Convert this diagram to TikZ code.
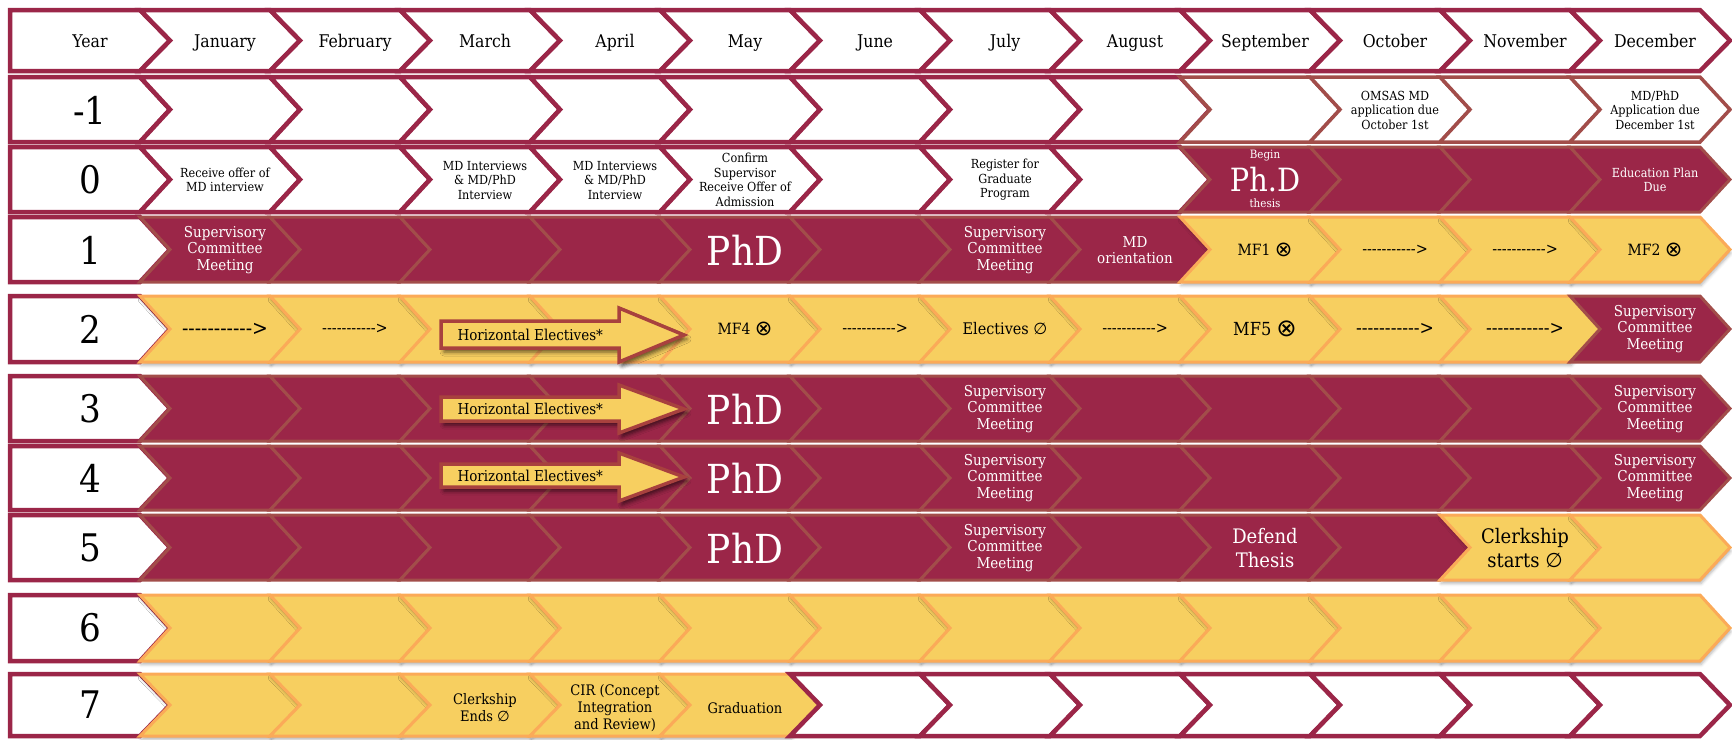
\documentclass[tikz,border=0pt]{standalone}
\usepackage{fontspec}
\setmainfont{DejaVu Serif Condensed}[Ligatures=TeXOff]
\newfontfamily\symfont{DejaVu Sans}
\usetikzlibrary{shadows.blur}

\definecolor{mdmaroon}{HTML}{9B2648}
\definecolor{phdbrown}{HTML}{A24D4A}
\definecolor{clkyellow}{HTML}{F7CF60}
\definecolor{clkorange}{HTML}{FBAA58}
\definecolor{elecred}{HTML}{A8413E}

\newcommand{\otimesym}{\raisebox{-0.08em}{\scalebox{1.35}{\symfont ⊗}}}
\newcommand{\emptysym}{{\symfont ∅}}
% one chevron: style, column, top, bottom
\newcommand{\chev}[4]{%
  \draw[#1] ({10+130*#2},#3) -- ({140+130*#2},#3) -- ({170+130*#2},{(#3+#4)/2})
    -- ({140+130*#2},#4) -- ({10+130*#2},#4) -- ({40+130*#2},{(#3+#4)/2}) -- cycle;}
% year column box, no notch
\newcommand{\yearbox}[2]{%
  \draw[cellw] (10,#1) -- (140,#1) -- (170,{(#1+#2)/2}) -- (140,#2) -- (10,#2) -- cycle;}

\begin{document}
\begin{tikzpicture}[x=1pt, y=-1pt,
  cellw/.style={draw=mdmaroon, line width=4.5pt, fill=white},
  cellb/.style={draw=phdbrown, line width=3.5pt, fill=white},
  cellm/.style={draw=phdbrown, line width=3pt, fill=mdmaroon},
  celly/.style={draw=clkorange, line width=3pt, fill=clkyellow,
    blur shadow={shadow xshift=1pt, shadow yshift=-3.5pt, shadow blur radius=3pt, shadow opacity=30}},
  elec/.style={draw=elecred, line width=3.5pt, fill=clkyellow, line join=miter,
    blur shadow={shadow xshift=3pt, shadow yshift=-4pt, shadow blur radius=4pt, shadow opacity=60}},
  hdr/.style={font=\fontsize{17.5}{20}\selectfont, anchor=base},
  yrnum/.style={font=\fontsize{38}{40}\selectfont},
  note/.style={font=\fontsize{12.5}{14.5}\selectfont, align=center},
  wnote/.style={note, text=white},
  meet/.style={font=\fontsize{15}{16.5}\selectfont, align=center, text=white},
  phd/.style={font=\fontsize{40}{40}\selectfont, text=white},
  mf/.style={font=\fontsize{15.5}{17}\selectfont},
  dashtxt/.style={font=\fontsize{16}{18}\selectfont},
  bigtxt/.style={font=\fontsize{20}{24}\selectfont, align=center},
  grad/.style={font=\fontsize{14.5}{17}\selectfont, align=center},
  electxt/.style={font=\fontsize{15}{17}\selectfont, anchor=west}]
\useasboundingbox (0,0) rectangle (1732,739);
%% header row
\yearbox{10}{71}
\foreach \c in {1,...,12} {\chev{cellw}{\c}{10}{71}}
%% year -1
\yearbox{77}{142}
\foreach \c in {1,...,8} {\chev{cellw}{\c}{77}{142}}
\foreach \c in {9,...,12} {\chev{cellb}{\c}{77}{142}}
%% year 0
\yearbox{147}{212}
\foreach \c in {1,...,8} {\chev{cellw}{\c}{147}{212}}
\foreach \c in {9,...,12} {\chev{cellm}{\c}{147}{212}}
%% year 1
\yearbox{217}{282}
\foreach \c in {1,...,8} {\chev{cellm}{\c}{217}{282}}
\foreach \c in {9,...,12} {\chev{celly}{\c}{217}{282}}
%% year 2
\yearbox{296}{362}
\foreach \c in {1,...,11} {\chev{celly}{\c}{296}{362}}
\chev{cellm}{12}{296}{362}
%% years 3 and 4
\foreach \t/\b in {376/441, 446/510} {
  \yearbox{\t}{\b}
  \foreach \c in {1,...,12} {\chev{cellm}{\c}{\t}{\b}}
}
%% year 5
\yearbox{515}{580}
\foreach \c in {1,...,10} {\chev{cellm}{\c}{515}{580}}
\foreach \c in {11,12} {\chev{celly}{\c}{515}{580}}
%% year 6
\yearbox{595}{661}
\foreach \c in {1,...,12} {\chev{celly}{\c}{595}{661}}
%% year 7
\yearbox{674}{736}
\foreach \c in {1,...,5} {\chev{celly}{\c}{674}{736}}
\foreach \c in {6,...,12} {\chev{cellw}{\c}{674}{736}}
%% horizontal electives arrows
\foreach \n/\t/\bt/\bb/\b in {2/308/321/348/362, 3/385/397/421/433, 4/453/464/487/501} {
  \draw[elec] (441,\bt) -- (619,\bt) -- (619,\t) -- (684,{(\t+\b)/2}) -- (619,\b) -- (619,\bb) -- (441,\bb) -- cycle;
  \node (he\n) at (454,{(\bt+\bb)/2}) [electxt] {Horizontal Electives*};
}
%% header labels
\node (yr) at (90,47) [hdr] {Year};
\foreach \m [count=\c] in {January,February,March,April,May,June,July,August,September,October,November,December}
  \node (h\c) at ({95+130*\c},47) [hdr] {\m};
\foreach \nm/\t/\y in {ym1/-1/110, y0/0/180, y1/1/250, y2/2/329, y3/3/409, y4/4/478, y5/5/548, y6/6/628, y7/7/705}
  \node (\nm) at (90,\y) [yrnum] {\t};
%% year -1
\node (cm1oct) at (1395,110) [note] {OMSAS MD\\application due\\October 1st};
\node (cm1dec) at (1655,110) [note] {MD/PhD\\Application due\\December 1st};
%% year 0
\node (c0jan) at (225,180) [note] {Receive offer of\\MD interview};
\node (c0mar) at (485,180) [note] {MD Interviews\\\& MD/PhD\\Interview};
\node (c0apr) at (615,180) [note] {MD Interviews\\\& MD/PhD\\Interview};
\node (c0may) at (745,180) [note] {Confirm\\Supervisor\\Receive Offer of\\Admission};
\node (c0jul) at (1005,180) [note] {Register for\\Graduate\\Program};
\node (c0begin) at (1265,156) [wnote, font=\fontsize{11.5}{13}\selectfont] {Begin};
\node (c0sep) at (1265,180) [phd, font=\fontsize{32}{32}\selectfont] {Ph.D};
\node (c0thesis) at (1265,203) [wnote, font=\fontsize{11.5}{13}\selectfont] {thesis};
\node (c0dec) at (1655,180) [wnote] {Education Plan\\Due};
%% year 1
\node (c1jan) at (225,250) [meet] {Supervisory\\Committee\\Meeting};
\node (c1may) at (745,250) [phd] {PhD};
\node (c1jul) at (1005,250) [meet] {Supervisory\\Committee\\Meeting};
\node (c1aug) at (1135,250) [meet] {MD\\orientation};
\node (c1sep) at (1265,250) [mf] {MF1 \otimesym};
\node (c1oct) at (1395,250) [dashtxt] {----------->};
\node (c1nov) at (1525,250) [dashtxt] {----------->};
\node (c1dec) at (1655,250) [mf] {MF2 \otimesym};
%% year 2
\node (c2jan) at (225,329) [dashtxt, font=\fontsize{21}{22}\selectfont] {----------->};
\node (c2feb) at (355,329) [dashtxt] {----------->};
\node (c2may) at (745,329) [mf] {MF4 \otimesym};
\node (c2jun) at (875,329) [dashtxt] {----------->};
\node (c2jul) at (1005,329) [mf, font=\fontsize{16}{18}\selectfont] {Electives \emptysym};
\node (c2aug) at (1135,329) [dashtxt] {----------->};
\node (c2sep) at (1265,329) [mf, font=\fontsize{18}{20}\selectfont] {MF5 \otimesym};
\node (c2oct) at (1395,329) [dashtxt, font=\fontsize{19}{20}\selectfont] {----------->};
\node (c2nov) at (1525,329) [dashtxt, font=\fontsize{19}{20}\selectfont] {----------->};
\node (c2dec) at (1655,329) [meet] {Supervisory\\Committee\\Meeting};
%% years 3 and 4
\foreach \r/\y in {3/409, 4/478} {
  \node (c\r may) at (745,\y) [phd] {PhD};
  \node (c\r jul) at (1005,\y) [meet] {Supervisory\\Committee\\Meeting};
  \node (c\r dec) at (1655,\y) [meet] {Supervisory\\Committee\\Meeting};
}
%% year 5
\node (c5may) at (745,548) [phd] {PhD};
\node (c5jul) at (1005,548) [meet] {Supervisory\\Committee\\Meeting};
\node (c5sep) at (1265,548) [bigtxt, text=white] {Defend\\Thesis};
\node (c5nov) at (1525,548) [bigtxt] {Clerkship\\starts \emptysym};
%% year 7
\node (c7mar) at (485,708) [grad] {Clerkship\\Ends \emptysym};
\node (c7apr) at (615,708) [grad] {CIR (Concept\\Integration\\and Review)};
\node (c7may) at (745,708) [grad] {Graduation};
\end{tikzpicture}
\end{document}
